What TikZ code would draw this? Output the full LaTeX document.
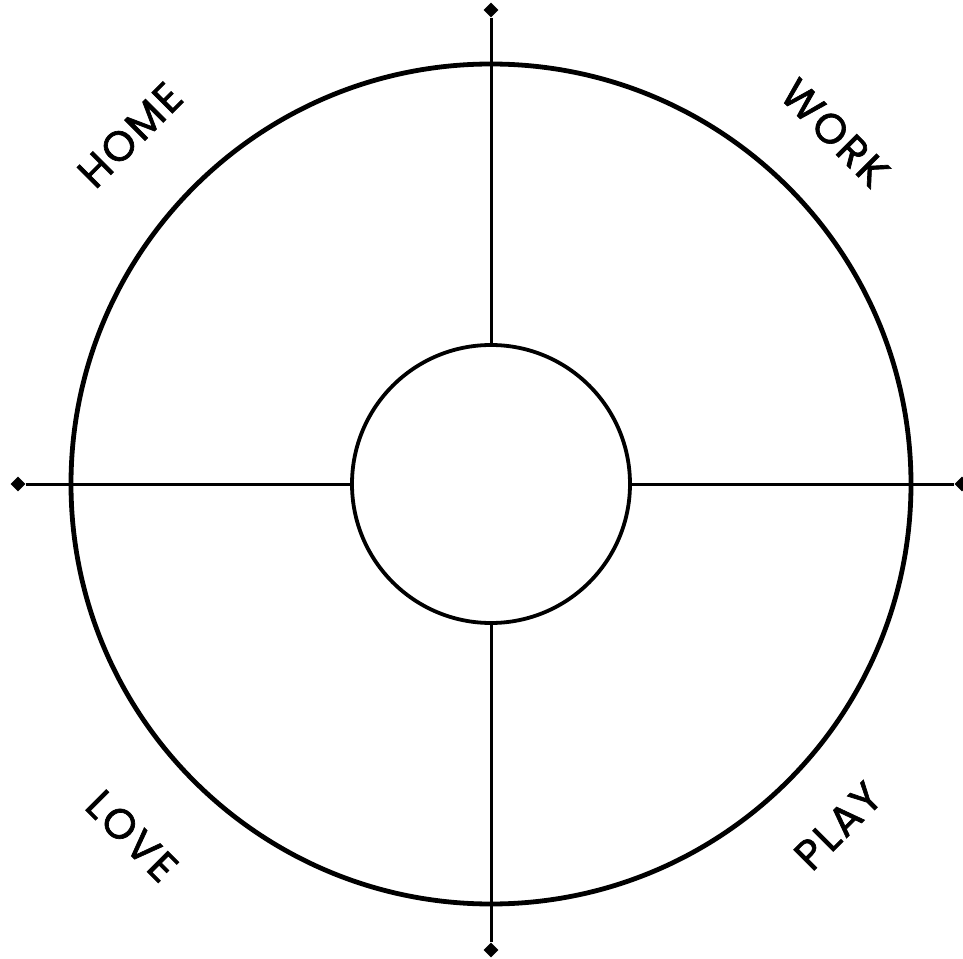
\documentclass[tikz,border=0pt]{standalone}
\usepackage{fontspec}
\setmainfont{Poppins}
\usetikzlibrary{
  positioning,
  shapes.geometric
}

\begin{document}
\begin{tikzpicture}[
  x=1pt, y=1pt,
  ring/.style={
    draw=black, line width=4.8pt
  },
  hub/.style={
    circle, draw=black, line width=3.8pt,
    minimum size=278pt, inner sep=0pt
  },
  tip/.style={
    diamond, fill=black, inner sep=0pt,
    minimum size=15pt
  },
  spoke/.style={
    draw=black, line width=3pt
  },
  area/.style={
    font=\fontsize{42}{46}\selectfont\addfontfeatures{LetterSpace=6,FakeBold=1.6},
    inner sep=0pt
  }
]

\useasboundingbox (-491,-474) rectangle (472,484);

% Outer ring
\draw[ring] (0,0) circle (420);

% Centre circle
\node[hub] (hub) at (0,0) {};

% Axis ends
\node[tip] (top) at (0,474) {};
\node[tip] (bottom) at (0,-466) {};
\node[tip] (left) at (-473,0) {};
\node[tip] (right) at (471,0) {};

% Spokes
\draw[spoke] (top) -- (hub);
\draw[spoke] (bottom) -- (hub);
\draw[spoke] (left) -- (hub);
\draw[spoke] (right) -- (hub);

% Quadrant labels
\node[area, rotate=45] (home) at (-361,349) {HOME};
\node[area, rotate=-45] (work) at (344,351) {WORK};
\node[area, rotate=-45] (love) at (-359,-352) {LOVE};
\node[area, rotate=45] (play) at (347,-342) {PLAY};

\end{tikzpicture}
\end{document}
